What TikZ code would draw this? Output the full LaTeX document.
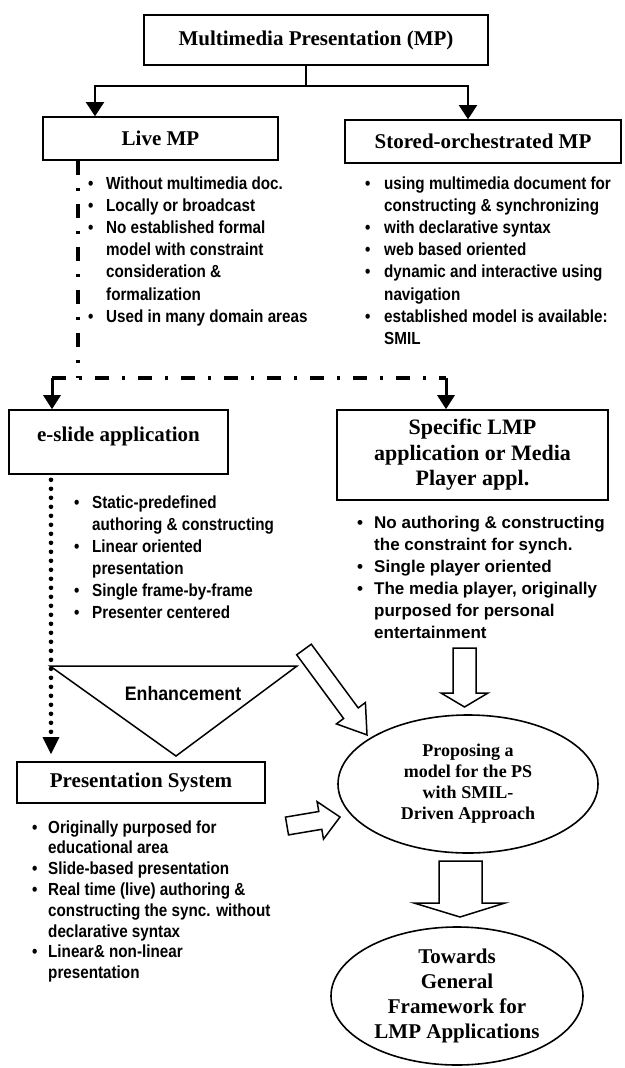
\documentclass[tikz,border=0pt]{standalone}
\usepackage{fontspec}
\setmainfont{Liberation Serif}
\newfontfamily\nsans[FakeStretch=0.87]{Liberation Sans}
\newfontfamily\wsans{Liberation Sans}
\newfontfamily\esans[FakeStretch=0.91]{Liberation Sans}
\usetikzlibrary{arrows.meta,shapes.geometric,calc}
\begin{document}
\begin{tikzpicture}[x=1pt,y=-1pt,
  hbox/.style={draw, line width=1.6pt, inner sep=0pt, align=center, font=\bfseries\fontsize{21}{25}\selectfont},
  blist/.style={anchor=base west, inner sep=0pt, font=\nsans\bfseries\fontsize{17.5}{22.2}\selectfont},
  conn/.style={line width=2pt, -{Triangle[width=18pt,length=14pt]}},
  conn2/.style={line width=3pt, -{Triangle[width=17pt,length=14pt]}},
  ddash/.style={line width=3.5pt, dash pattern=on 14pt off 13pt on 3pt off 13pt},
  dots/.style={line width=4.6pt, line cap=round, dash pattern=on 0pt off 9pt, -{Triangle[width=17pt,length=17pt,line width=0pt]}},
  hollow/.style={draw, line width=1.5pt, fill=white, line join=miter},
  oval/.style={ellipse, draw, line width=1.6pt, inner sep=0pt, align=center}
]
\useasboundingbox (0,0) rectangle (624,1068);
\fill[white] (0,0) rectangle (624,1068);

% boxes
\node[hbox, minimum width=344pt, minimum height=50pt] (mp) at (316,40) {Multimedia Presentation (MP)};
\node[hbox, minimum width=235pt, minimum height=43pt] (live) at (160.5,138.5) {Live MP};
\node[hbox, minimum width=276pt, minimum height=43pt] (stored) at (483,141.5) {Stored-orchestrated MP};
\node[hbox, minimum width=219pt, text height=31pt, text depth=33pt, anchor=base] (eslide) at (118.5,441) {e-slide application};
\node[hbox, minimum width=271pt, minimum height=90pt, font=\bfseries\fontsize{22}{25.5}\selectfont] (spec) at (472.5,455) {Specific LMP\\application or Media\\Player appl.};
\node[hbox, minimum width=248pt, minimum height=41pt] (ps) at (141,782.5) {Presentation System};

% ellipses
\node[oval, minimum width=260pt, minimum height=138pt, font=\bfseries\fontsize{18}{21}\selectfont] (prop) at (468,784) {Proposing a\\model for the PS\\with SMIL-\\Driven Approach};
\node[oval, minimum width=252pt, minimum height=138pt, font=\bfseries\fontsize{21}{25}\selectfont] (gen) at (457,996) {Towards\\General\\Framework for\\LMP Applications};

% top connectors
\coordinate (j) at (306,86);
\draw[line width=2pt] (mp.south -| j) -- (j);
\draw[conn] (j) -| ([xshift=-65.5pt]live.north);
\draw[conn] (j) -| ([xshift=-15pt]stored.north);

% dash-dot connectors
\coordinate (dl) at (52,378);
\coordinate (dr) at (446,378);
\coordinate (dm) at (78,378);
\draw[ddash] ([xshift=-82.5pt]live.south) -- (dm);
\draw[ddash] (dl) -- (dr);
\draw[conn2] (dl) -- (dl |- eslide.north);
\draw[conn2] (dr) -- (dr |- spec.north);

% dotted connector
\coordinate (dx) at (51,0);
\draw[dots] ($(eslide.south -| dx)+(0,5)$) -- ($(ps.north -| dx)+(0,-7)$);

% enhancement triangle
\draw[line width=1.5pt, line join=miter] (50,666) -- (297,666) -- (176,756) -- cycle;
\node[font=\esans\bfseries\fontsize{19.5}{22}\selectfont, inner sep=0pt] (enh) at (183,694) {Enhancement};

% hollow arrows
\draw[hollow] (453,648) -- (476,648) -- (476,693) -- (488,693) -- (464.5,707) -- (441,693) -- (453,693) -- cycle;
\draw[hollow] (311.3,644.2) -- (358.2,707.9) -- (365.4,702.5) -- (367,734.9) -- (336.4,723.9) -- (343.6,718.5) -- (296.7,654.8) -- cycle;
\draw[hollow] (285.5,817.1) -- (318.8,811.5) -- (317.1,801.7) -- (340,817) -- (323.5,839.1) -- (321.8,829.3) -- (288.5,834.9) -- cycle;
\draw[hollow] (439,861) -- (482,861) -- (482,903) -- (505,903) -- (460,917) -- (414,903) -- (439,903) -- cycle;

% bullet lists
\node[blist] (l1) at (88,189) {\begin{tabular}[t]{@{}p{18pt}@{}l@{}}
•&Without multimedia doc.\\
•&Locally or broadcast\\
•&No established formal\\
&model with constraint\\
&consideration \&\\
&formalization\\
•&Used in many domain areas
\end{tabular}};

\node[blist] (l2) at (365,189) {\begin{tabular}[t]{@{}p{19pt}@{}l@{}}
•&using multimedia document for\\
&constructing \& synchronizing\\
•&with declarative syntax\\
•&web based oriented\\
•&dynamic and interactive using\\
&navigation\\
•&established model is available:\\
&SMIL
\end{tabular}};

\node[blist, font=\nsans\bfseries\fontsize{17.5}{22}\selectfont] (l3) at (74,508) {\begin{tabular}[t]{@{}p{18pt}@{}l@{}}
•&Static-predefined\\
&authoring \& constructing\\
•&Linear oriented\\
&presentation\\
•&Single frame-by-frame\\
•&Presenter centered
\end{tabular}};

\node[blist, font=\wsans\bfseries\fontsize{17}{22}\selectfont] (l4) at (357,528) {\begin{tabular}[t]{@{}p{17pt}@{}l@{}}
•&No authoring \& constructing\\
&the constraint for synch.\\
•&Single player oriented\\
•&The media player, originally\\
&purposed for personal\\
&entertainment
\end{tabular}};

\node[blist, font=\nsans\bfseries\fontsize{17.5}{20.8}\selectfont] (l5) at (32,833) {\begin{tabular}[t]{@{}p{16pt}@{}l@{}}
•&Originally purposed for\\
&educational area\\
•&Slide-based presentation\\
•&Real time (live) authoring \&\\
&constructing the sync. without\\
&declarative syntax\\
•&Linear\& non-linear\\
&presentation
\end{tabular}};
\end{tikzpicture}
\end{document}
